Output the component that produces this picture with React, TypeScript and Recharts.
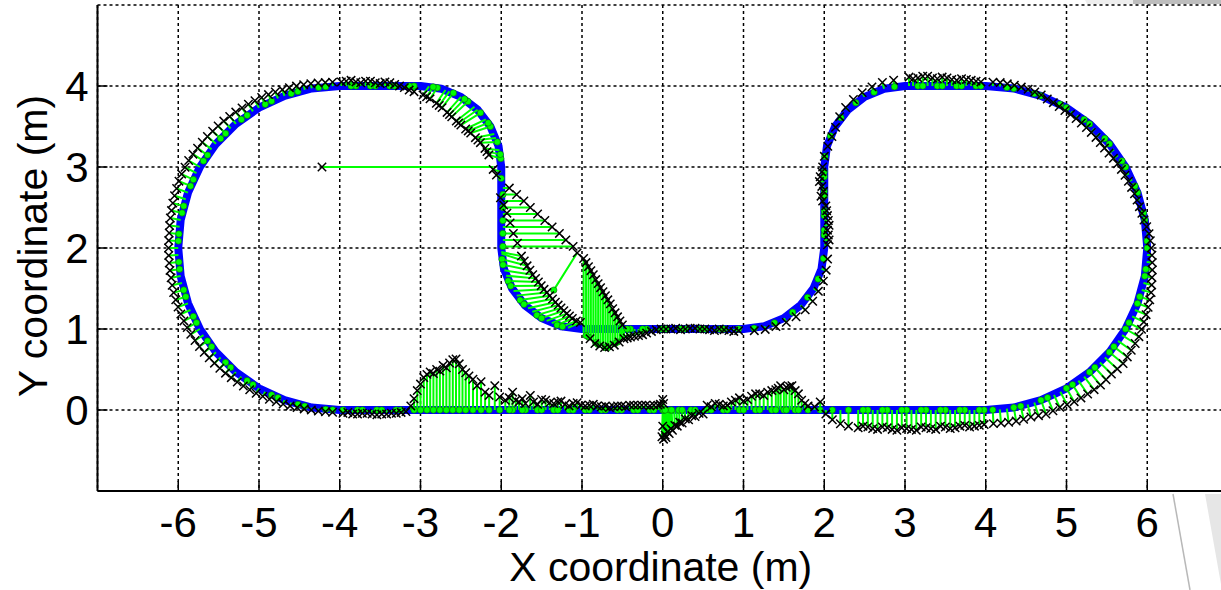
import React from 'react';
import { ComposedChart, Line, Scatter, XAxis, YAxis, CartesianGrid } from 'recharts';

type Seg = [number, number, number, number]; // [refX, refY, measX, measY]
type Pt = [number, number];

const xTicks = [-6, -5, -4, -3, -2, -1, 0, 1, 2, 3, 4, 5, 6];
const yTicks = [0, 1, 2, 3, 4];
const xTitle = 'X coordinate (m)';
const yTitle = 'Y coordinate (m)';

// reference track (blue)
const referencePath: Pt[] = [
  [0, 0], [4, 0],
  [4.347, 0.03], [4.684, 0.121], [5.0, 0.268], [5.286, 0.468], [5.532, 0.714], [5.732, 1.0],
  [5.879, 1.316], [5.97, 1.653], [6, 2], [5.97, 2.347], [5.879, 2.684], [5.732, 3.0],
  [5.532, 3.286], [5.286, 3.532], [5.0, 3.732], [4.684, 3.879], [4.347, 3.97], [4, 4],
  [3, 4],
  [2.741, 3.966], [2.5, 3.866], [2.293, 3.707], [2.134, 3.5], [2.034, 3.259], [2, 3],
  [2, 2],
  [1.966, 1.741], [1.866, 1.5], [1.707, 1.293], [1.5, 1.134], [1.259, 1.034], [1, 1],
  [-1, 1],
  [-1.259, 1.034], [-1.5, 1.134], [-1.707, 1.293], [-1.866, 1.5], [-1.966, 1.741], [-2, 2],
  [-2, 3],
  [-2.034, 3.259], [-2.134, 3.5], [-2.293, 3.707], [-2.5, 3.866], [-2.741, 3.966], [-3, 4],
  [-4, 4],
  [-4.347, 3.97], [-4.684, 3.879], [-5.0, 3.732], [-5.286, 3.532], [-5.532, 3.286], [-5.732, 3.0],
  [-5.879, 2.684], [-5.97, 2.347], [-6, 2], [-5.97, 1.653], [-5.879, 1.316], [-5.732, 1.0],
  [-5.532, 0.714], [-5.286, 0.468], [-5.0, 0.268], [-4.684, 0.121], [-4.347, 0.03], [-4, 0],
  [0, 0],
];

const bottomRightSamples: Seg[] = [
  [0.0, 0, 0.0, 0.13], [0.0, 0, 0.01, -0.36], [0.02, 0, 0.03, -0.31], [0.05, 0, 0.06, -0.27],
  [0.09, 0, 0.1, -0.23], [0.14, 0, 0.15, -0.19], [0.2, 0, 0.21, -0.15], [0.27, 0, 0.28, -0.11],
  [0.35, 0, 0.36, -0.07], [0.45, 0, 0.45, -0.04], [0.55, 0, 0.55, 0.06], [0.65, 0, 0.65, 0.08],
  [0.75, 0, 0.75, 0.05], [0.85, 0, 0.85, 0.1], [0.95, 0, 0.95, 0.15], [1.05, 0, 1.05, 0.13],
  [1.15, 0, 1.15, 0.2], [1.25, 0, 1.25, 0.18], [1.35, 0, 1.35, 0.24], [1.43, 0, 1.43, 0.27],
  [1.5, 0, 1.5, 0.25], [1.57, 0, 1.57, 0.29], [1.64, 0, 1.64, 0.24], [1.72, 0, 1.72, 0.12],
  [1.8, 0, 1.8, 0.05], [1.88, 0, 1.88, 0.04], [1.95, 0, 1.95, 0.1], [2.02, 0, 2.02, -0.05],
  [2.1, 0, 2.1, -0.12], [2.2, 0, 2.2, -0.17], [2.3, 0, 2.3, -0.2], [2.42, 0, 2.42, -0.22],
  [2.54, 0, 2.54, -0.21], [2.66, 0, 2.66, -0.24], [2.78, 0, 2.78, -0.22], [2.9, 0, 2.9, -0.25],
  [3.02, 0, 3.02, -0.23], [3.14, 0, 3.14, -0.25], [3.26, 0, 3.26, -0.22], [3.38, 0, 3.38, -0.24],
  [3.5, 0, 3.5, -0.21], [3.62, 0, 3.62, -0.22], [3.74, 0, 3.74, -0.19], [3.86, 0, 3.86, -0.2],
  [3.98, 0, 3.98, -0.18],
  [0.0, 0, -0.01, -0.33], [0.01, 0, 0.0, -0.2], [0.0, 0, 0.01, 0.08], [0.03, 0, 0.04, -0.34],
  [0.07, 0, 0.08, -0.29], [0.11, 0, 0.12, -0.25], [0.17, 0, 0.18, -0.2], [0.24, 0, 0.24, -0.16],
  [0.31, 0, 0.32, -0.12], [0.4, 0, 0.4, -0.08], [0.5, 0, 0.5, -0.05],
  [0.6, 0, 0.6, 0.04], [0.7, 0, 0.7, 0.07], [0.8, 0, 0.8, 0.06], [0.9, 0, 0.9, 0.12],
  [1.0, 0, 1.0, 0.11], [1.1, 0, 1.1, 0.17], [1.2, 0, 1.2, 0.2], [1.3, 0, 1.3, 0.22],
  [1.4, 0, 1.4, 0.25], [1.46, 0, 1.46, 0.3], [1.53, 0, 1.53, 0.28], [1.6, 0, 1.6, 0.3],
  [1.68, 0, 1.68, 0.2], [1.76, 0, 1.76, 0.08],
  [2.48, 0, 2.48, -0.2], [2.6, 0, 2.6, -0.23], [2.72, 0, 2.72, -0.21], [2.84, 0, 2.84, -0.24],
  [2.96, 0, 2.96, -0.22], [3.08, 0, 3.08, -0.24], [3.2, 0, 3.2, -0.21], [3.32, 0, 3.32, -0.23],
  [3.44, 0, 3.44, -0.2], [3.56, 0, 3.56, -0.23], [3.68, 0, 3.68, -0.2], [3.8, 0, 3.8, -0.21],
  [3.92, 0, 3.92, -0.19],
];

const rightLoopSamples: Seg[] = [
  [4.174, 0.008, 4.189, -0.162], [4.347, 0.03, 4.377, -0.137], [4.518, 0.068, 4.559, -0.086],
  [4.684, 0.121, 4.746, -0.049], [4.845, 0.187, 4.917, 0.033], [5.0, 0.268, 5.095, 0.103],
  [5.147, 0.362, 5.262, 0.198], [5.286, 0.468, 5.421, 0.307], [5.414, 0.586, 5.556, 0.444],
  [5.532, 0.714, 5.701, 0.573], [5.638, 0.853, 5.802, 0.738], [5.732, 1.0, 5.897, 0.905],
  [5.813, 1.155, 5.958, 1.087], [5.879, 1.316, 6.011, 1.268], [5.932, 1.482, 6.048, 1.451],
  [5.97, 1.653, 6.058, 1.637], [5.992, 1.826, 6.062, 1.82], [6.0, 2.0, 6.05, 2.0],
  [5.992, 2.174, 6.022, 2.177], [5.97, 2.347, 5.96, 2.346], [5.932, 2.518, 5.903, 2.51],
  [5.879, 2.684, 5.842, 2.67], [5.813, 2.845, 5.767, 2.824], [5.732, 3.0, 5.68, 2.97],
  [5.638, 3.147, 5.581, 3.107], [5.532, 3.286, 5.471, 3.234], [5.414, 3.414, 5.365, 3.365],
  [5.286, 3.532, 5.247, 3.486], [5.147, 3.638, 5.119, 3.597], [5.0, 3.732, 4.98, 3.697],
  [4.845, 3.813, 4.837, 3.794], [4.684, 3.879, 4.687, 3.889], [4.518, 3.932, 4.525, 3.961],
  [4.347, 3.97, 4.354, 4.009], [4.174, 3.992, 4.179, 4.042],
  [4.087, 0.002, 4.095, -0.168], [4.261, 0.017, 4.283, -0.151], [4.433, 0.047, 4.469, -0.114],
  [4.601, 0.093, 4.653, -0.07], [4.765, 0.152, 4.832, -0.009], [4.923, 0.226, 5.007, 0.066],
  [5.075, 0.313, 5.179, 0.149], [5.218, 0.413, 5.342, 0.251], [5.351, 0.525, 5.49, 0.374],
  [5.475, 0.649, 5.629, 0.507], [5.587, 0.782, 5.753, 0.655], [5.687, 0.925, 5.851, 0.821],
  [5.774, 1.077, 5.929, 0.996], [5.848, 1.235, 5.986, 1.177], [5.907, 1.399, 6.031, 1.36],
  [5.953, 1.567, 6.055, 1.544], [5.983, 1.739, 6.062, 1.729], [5.998, 1.913, 6.058, 1.91],
  [5.998, 2.087, 6.038, 2.089], [5.983, 2.261, 5.993, 2.262], [5.953, 2.433, 5.933, 2.428],
  [5.907, 2.601, 5.874, 2.591], [5.848, 2.765, 5.806, 2.748], [5.774, 2.923, 5.725, 2.898],
  [5.687, 3.075, 5.632, 3.04], [5.587, 3.218, 5.527, 3.172], [5.475, 3.351, 5.419, 3.301],
  [5.351, 3.475, 5.307, 3.427], [5.218, 3.587, 5.184, 3.543], [5.075, 3.687, 5.05, 3.649],
  [4.923, 3.774, 4.91, 3.747], [4.765, 3.848, 4.762, 3.839], [4.601, 3.907, 4.607, 3.926],
  [4.433, 3.953, 4.44, 3.987], [4.261, 3.983, 4.267, 4.027], [4.087, 3.998, 4.089, 4.048],
];

const rightBendSamples: Seg[] = [
  [3.88, 4, 3.88, 4.06], [3.76, 4, 3.76, 4.08], [3.64, 4, 3.64, 4.07], [3.52, 4, 3.52, 4.1],
  [3.4, 4, 3.4, 4.09], [3.28, 4, 3.28, 4.12], [3.16, 4, 3.16, 4.1], [3.05, 4, 3.05, 4.11],
  [3.94, 4, 3.94, 4.05], [3.82, 4, 3.82, 4.07], [3.7, 4, 3.7, 4.09], [3.58, 4, 3.58, 4.08],
  [3.46, 4, 3.46, 4.11], [3.34, 4, 3.34, 4.1], [3.22, 4, 3.22, 4.12], [3.1, 4, 3.1, 4.09],
  [2.87, 3.991, 2.859, 4.071], [2.741, 3.966, 2.72, 4.043], [2.617, 3.924, 2.591, 3.989],
  [2.5, 3.866, 2.47, 3.918], [2.391, 3.793, 2.361, 3.833], [2.293, 3.707, 2.265, 3.735],
  [2.207, 3.609, 2.191, 3.621], [2.134, 3.5, 2.14, 3.49], [2.076, 3.383, 2.095, 3.375],
  [2.034, 3.259, 2.044, 3.256], [2.009, 3.131, 2.001, 3.132],
  [2, 3.0, 1.98, 3.0], [2, 2.88, 1.95, 2.88], [2, 2.76, 1.97, 2.76], [2, 2.64, 1.96, 2.64],
  [2, 2.52, 2.02, 2.52], [2, 2.4, 2.04, 2.4], [2, 2.28, 2.06, 2.28], [2, 2.16, 2.05, 2.16],
  [2, 2.04, 2.04, 2.04],
  [2, 2.94, 1.97, 2.94], [2, 2.82, 1.94, 2.82], [2, 2.7, 1.99, 2.7], [2, 2.58, 1.98, 2.58],
  [2, 2.46, 2.03, 2.46], [2, 2.34, 2.05, 2.34], [2, 2.22, 2.04, 2.22], [2, 2.1, 2.06, 2.1],
  [1.991, 1.87, 2.041, 1.863], [1.966, 1.741, 2.024, 1.726], [1.924, 1.617, 1.989, 1.591],
  [1.866, 1.5, 1.927, 1.465], [1.793, 1.391, 1.857, 1.343], [1.707, 1.293, 1.764, 1.236],
  [1.609, 1.207, 1.651, 1.151], [1.5, 1.134, 1.53, 1.082], [1.383, 1.076, 1.402, 1.03],
  [1.259, 1.034, 1.269, 0.995], [1.131, 1.009, 1.134, 0.979],
];

const middleSamples: Seg[] = [
  [0.88, 1, 0.88, 0.97], [0.76, 1, 0.76, 0.99], [0.64, 1, 0.64, 0.98], [0.52, 1, 0.52, 1.0],
  [0.4, 1, 0.4, 1.01], [0.28, 1, 0.28, 1.0], [0.16, 1, 0.16, 1.01], [0.04, 1, 0.04, 1.0],
  [-0.08, 1, -0.08, 0.99], [-0.2, 1, -0.2, 0.95], [-0.3, 1, -0.3, 0.92], [-0.4, 1, -0.4, 0.9],
  [-0.48, 1, -0.48, 0.88],
  [0.94, 1, 0.94, 0.98], [0.82, 1, 0.82, 0.98], [0.7, 1, 0.7, 1.0], [0.58, 1, 0.58, 0.99],
  [0.46, 1, 0.46, 1.0], [0.34, 1, 0.34, 1.01], [0.22, 1, 0.22, 0.99], [0.1, 1, 0.1, 1.0],
  [-0.02, 1, -0.02, 1.0], [-0.14, 1, -0.14, 0.97], [-0.25, 1, -0.25, 0.93], [-0.35, 1, -0.35, 0.91],
  [-0.44, 1, -0.44, 0.89],
];

const lagSamples: Seg[] = [
  [-0.98, 0.95, -0.98, 1.87], [-0.92, 0.9, -0.92, 1.77], [-0.86, 0.85, -0.86, 1.67],
  [-0.8, 0.81, -0.8, 1.56], [-0.74, 0.78, -0.74, 1.46], [-0.68, 0.77, -0.68, 1.36],
  [-0.62, 0.8, -0.62, 1.25], [-0.56, 0.84, -0.56, 1.15], [-0.51, 0.88, -0.5, 1.05],
  [-0.95, 0.92, -0.95, 1.82], [-0.89, 0.87, -0.89, 1.72], [-0.83, 0.83, -0.83, 1.61],
  [-0.77, 0.79, -0.77, 1.51], [-0.71, 0.77, -0.71, 1.41], [-0.65, 0.78, -0.65, 1.31],
  [-0.59, 0.82, -0.59, 1.2], [-0.53, 0.86, -0.53, 1.1],
  [-1.35, 1.48, -1.06, 1.94],
  [-1.174, 1.015, -1.02, 1.08], [-1.309, 1.049, -1.12, 1.13], [-1.438, 1.101, -1.19, 1.19],
  [-1.559, 1.171, -1.26, 1.26], [-1.669, 1.257, -1.33, 1.33], [-1.766, 1.357, -1.4, 1.41],
  [-1.848, 1.47, -1.47, 1.49], [-1.914, 1.593, -1.54, 1.58], [-1.961, 1.724, -1.61, 1.67],
  [-1.99, 1.861, -1.68, 1.78], [-2.0, 1.95, -1.75, 1.9],
  [-1.242, 1.03, -1.07, 1.1], [-1.375, 1.073, -1.155, 1.16], [-1.5, 1.134, -1.225, 1.225],
  [-1.616, 1.212, -1.295, 1.295], [-1.719, 1.305, -1.365, 1.37], [-1.809, 1.412, -1.435, 1.45],
  [-1.883, 1.531, -1.505, 1.535], [-1.94, 1.658, -1.575, 1.625], [-1.978, 1.792, -1.645, 1.725],
  [-1.998, 1.93, -1.715, 1.84],
  [-1.98, 2.02, -1.11, 2.02], [-1.98, 2.1, -1.2, 2.1], [-1.98, 2.18, -1.28, 2.18],
  [-1.98, 2.26, -1.37, 2.26], [-1.98, 2.34, -1.46, 2.34], [-1.98, 2.42, -1.55, 2.42],
  [-1.98, 2.5, -1.64, 2.5], [-1.98, 2.58, -1.72, 2.58], [-1.98, 2.66, -1.81, 2.66],
  [-1.98, 2.74, -1.9, 2.74], [-2.0, 2.86, -2.06, 2.9], [-2.0, 2.94, -2.1, 2.97],
  [-2.006, 3.105, -2.153, 3.149], [-2.022, 3.208, -2.202, 3.229], [-2.049, 3.309, -2.258, 3.3],
  [-2.086, 3.407, -2.32, 3.362], [-2.134, 3.5, -2.378, 3.419], [-2.191, 3.588, -2.441, 3.469],
  [-2.257, 3.669, -2.5, 3.518], [-2.331, 3.743, -2.557, 3.567], [-2.412, 3.809, -2.613, 3.619],
  [-2.5, 3.866, -2.671, 3.674], [-2.593, 3.914, -2.733, 3.733], [-2.691, 3.951, -2.804, 3.786],
  [-2.792, 3.978, -2.882, 3.842], [-2.895, 3.995, -2.969, 3.889],
  [-2.012, 3.156, -2.177, 3.19], [-2.066, 3.358, -2.289, 3.332], [-2.161, 3.545, -2.409, 3.445],
  [-2.293, 3.707, -2.528, 3.543], [-2.455, 3.839, -2.641, 3.647], [-2.642, 3.934, -2.768, 3.76],
  [-2.844, 3.988, -2.924, 3.867],
  [-2.1, 3.0, -4.22, 3.0],
];

const topLeftSamples: Seg[] = [
  [-3.08, 4, -3.08, 3.93], [-3.2, 4, -3.2, 3.98], [-3.32, 4, -3.32, 4.02], [-3.44, 4, -3.44, 4.05],
  [-3.56, 4, -3.56, 4.04], [-3.68, 4, -3.68, 4.06], [-3.8, 4, -3.8, 4.05], [-3.92, 4, -3.92, 4.06],
  [-3.14, 4, -3.14, 3.95], [-3.26, 4, -3.26, 4.0], [-3.38, 4, -3.38, 4.04], [-3.5, 4, -3.5, 4.03],
  [-3.62, 4, -3.62, 4.06], [-3.74, 4, -3.74, 4.04], [-3.86, 4, -3.86, 4.07], [-3.98, 4, -3.98, 4.05],
];

const leftLoopSamples: Seg[] = [
  [-4.174, 3.992, -4.179, 4.042], [-4.347, 3.97, -4.358, 4.029], [-4.518, 3.932, -4.536, 3.999],
  [-4.684, 3.879, -4.711, 3.955], [-4.845, 3.813, -4.883, 3.894], [-5.0, 3.732, -5.05, 3.819],
  [-5.147, 3.638, -5.21, 3.729], [-5.286, 3.532, -5.363, 3.624], [-5.414, 3.414, -5.506, 3.506],
  [-5.532, 3.286, -5.639, 3.376], [-5.638, 3.147, -5.761, 3.233], [-5.732, 3.0, -5.871, 3.08],
  [-5.813, 2.845, -5.958, 2.913], [-5.879, 2.684, -6.02, 2.735], [-5.932, 2.518, -6.067, 2.554],
  [-5.97, 2.347, -6.098, 2.37], [-5.992, 2.174, -6.112, 2.185], [-6.0, 2.0, -6.12, 2.0],
  [-5.992, 1.826, -6.112, 1.815], [-5.97, 1.653, -6.088, 1.632], [-5.932, 1.482, -6.057, 1.449],
  [-5.879, 1.316, -6.002, 1.272], [-5.813, 1.155, -5.93, 1.1], [-5.732, 1.0, -5.845, 0.935],
  [-5.638, 0.853, -5.737, 0.784], [-5.532, 0.714, -5.616, 0.644], [-5.414, 0.586, -5.485, 0.515],
  [-5.286, 0.468, -5.343, 0.399], [-5.147, 0.362, -5.193, 0.296], [-5.0, 0.268, -5.035, 0.207],
  [-4.845, 0.187, -4.871, 0.133], [-4.684, 0.121, -4.701, 0.074], [-4.518, 0.068, -4.528, 0.03],
  [-4.347, 0.03, -4.352, 0.001], [-4.174, 0.008, -4.177, -0.022],
  [-4.087, 3.998, -4.089, 4.048], [-4.261, 3.983, -4.268, 4.037], [-4.433, 3.953, -4.447, 4.016],
  [-4.601, 3.907, -4.624, 3.979], [-4.765, 3.848, -4.798, 3.926], [-4.923, 3.774, -4.967, 3.858],
  [-5.075, 3.687, -5.131, 3.775], [-5.218, 3.587, -5.288, 3.678], [-5.351, 3.475, -5.436, 3.567],
  [-5.475, 3.351, -5.574, 3.442], [-5.587, 3.218, -5.702, 3.306], [-5.687, 3.075, -5.818, 3.158],
  [-5.774, 2.923, -5.916, 2.997], [-5.848, 2.765, -5.991, 2.825], [-5.907, 2.601, -6.046, 2.645],
  [-5.953, 2.433, -6.084, 2.462], [-5.983, 2.261, -6.107, 2.277], [-5.998, 2.087, -6.118, 2.092],
  [-5.998, 1.913, -6.118, 1.908], [-5.983, 1.739, -6.102, 1.723], [-5.953, 1.567, -6.075, 1.54],
  [-5.907, 1.399, -6.031, 1.36], [-5.848, 1.235, -5.968, 1.185], [-5.774, 1.077, -5.889, 1.017],
  [-5.687, 0.925, -5.792, 0.858], [-5.587, 0.782, -5.678, 0.712], [-5.475, 0.649, -5.552, 0.578],
  [-5.351, 0.525, -5.415, 0.455], [-5.218, 0.413, -5.269, 0.346], [-5.075, 0.313, -5.115, 0.25],
  [-4.923, 0.226, -4.953, 0.168], [-4.765, 0.152, -4.786, 0.101], [-4.601, 0.093, -4.615, 0.05],
  [-4.433, 0.047, -4.44, 0.013], [-4.261, 0.017, -4.265, -0.013], [-4.087, 0.002, -4.089, -0.028],
];

const bottomLeftSamples: Seg[] = [
  [-3.9, 0, -3.9, -0.03], [-3.78, 0, -3.78, -0.05], [-3.66, 0, -3.66, -0.04], [-3.54, 0, -3.54, -0.06],
  [-3.42, 0, -3.42, -0.05], [-3.3, 0, -3.3, -0.04], [-3.18, 0, -3.18, -0.02],
  [-3.96, 0, -3.96, -0.04], [-3.84, 0, -3.84, -0.05], [-3.72, 0, -3.72, -0.04], [-3.6, 0, -3.6, -0.05],
  [-3.48, 0, -3.48, -0.05], [-3.36, 0, -3.36, -0.04], [-3.24, 0, -3.24, -0.03],
  [-3.12, 0, -3.12, 0.05], [-3.08, 0, -3.08, 0.14], [-3.04, 0, -3.04, 0.24], [-3.0, 0, -3.0, 0.32],
  [-2.96, 0, -2.96, 0.4], [-2.92, 0, -2.92, 0.44], [-2.88, 0, -2.88, 0.47], [-2.84, 0, -2.84, 0.45],
  [-2.8, 0, -2.8, 0.5], [-2.76, 0, -2.76, 0.48], [-2.72, 0, -2.72, 0.55], [-2.68, 0, -2.68, 0.52],
  [-2.64, 0, -2.64, 0.58], [-2.6, 0, -2.6, 0.62], [-2.56, 0, -2.56, 0.63], [-2.52, 0, -2.52, 0.57],
  [-2.48, 0, -2.48, 0.5], [-2.44, 0, -2.44, 0.46], [-2.4, 0, -2.4, 0.42], [-2.35, 0, -2.35, 0.38],
  [-2.3, 0, -2.3, 0.3], [-2.25, 0, -2.25, 0.35], [-2.2, 0, -2.2, 0.22], [-2.15, 0, -2.15, 0.18],
  [-2.08, 0, -2.08, 0.3], [-2.02, 0, -2.02, 0.16], [-1.95, 0, -1.95, 0.12], [-1.86, 0, -1.86, 0.22],
  [-1.78, 0, -1.78, 0.1], [-1.7, 0, -1.7, 0.08], [-1.64, 0, -1.64, 0.18], [-1.55, 0, -1.55, 0.07],
  [-1.45, 0, -1.45, 0.12], [-1.35, 0, -1.35, 0.08], [-1.26, 0, -1.26, 0.11], [-1.16, 0, -1.16, 0.05],
  [-1.06, 0, -1.06, 0.09], [-0.96, 0, -0.96, 0.05], [-0.86, 0, -0.86, 0.07], [-0.76, 0, -0.76, 0.04],
  [-0.66, 0, -0.66, 0.03], [-0.56, 0, -0.56, 0.05], [-0.46, 0, -0.46, 0.04], [-0.36, 0, -0.36, 0.06],
  [-0.26, 0, -0.26, 0.06], [-0.16, 0, -0.16, 0.05], [-0.06, 0, -0.06, 0.06],
  [-1.9, 0, -1.9, 0.15], [-1.82, 0, -1.82, 0.12], [-1.74, 0, -1.74, 0.14], [-1.6, 0, -1.6, 0.1],
  [-1.5, 0, -1.5, 0.13], [-1.4, 0, -1.4, 0.09], [-1.3, 0, -1.3, 0.1], [-1.21, 0, -1.21, 0.07],
  [-1.11, 0, -1.11, 0.08], [-1.01, 0, -1.01, 0.06], [-0.91, 0, -0.91, 0.06], [-0.81, 0, -0.81, 0.05],
  [-0.71, 0, -0.71, 0.05], [-0.61, 0, -0.61, 0.04], [-0.51, 0, -0.51, 0.05], [-0.41, 0, -0.41, 0.06],
  [-0.31, 0, -0.31, 0.06], [-0.21, 0, -0.21, 0.06], [-0.11, 0, -0.11, 0.06], [-0.03, 0, -0.03, 0.07],
];

// measured points without an error vector
const extraMarks: Pt[] = [
  [-0.9, 0.88], [-0.84, 0.82], [-0.78, 0.79], [-0.72, 0.77], [-0.66, 0.78], [-0.6, 0.8], [-0.54, 0.84],
  [-1.8, 2.06], [-1.85, 2.18], [-1.89, 2.31], [-1.93, 2.43], [-1.97, 2.53], [-2.01, 2.62],
];

const allSamples: Seg[] = [
  ...bottomRightSamples, ...rightLoopSamples, ...rightBendSamples, ...middleSamples,
  ...lagSamples, ...topLeftSamples, ...leftLoopSamples, ...bottomLeftSamples,
];

const pathData = referencePath.map(([x, y]) => ({ x, y }));
const errorData = allSamples.flatMap(([rx, ry, mx, my]) => [
  { x: rx, y: ry },
  { x: mx, y: my },
  { x: mx, y: null },
]);
const measuredData = [
  ...allSamples.map(([, , mx, my]) => ({ x: mx, y: my })),
  ...extraMarks.map(([x, y]) => ({ x, y })),
];
const dotData = allSamples.filter((_, i) => i % 2 === 0).map(([rx, ry]) => ({ x: rx, y: ry }));

const FONT = '"Liberation Sans", Arial, Helvetica, sans-serif';

const BottomTick = (props: any) => {
  const { x, y, payload } = props;
  return (
    <g>
      <line x1={x} y1={y} x2={x} y2={y - 10} stroke="#000" strokeWidth={1.5} />
      <text x={x} y={y + 46} textAnchor="middle" fontSize={42} fontFamily={FONT} fill="#000">
        {payload.value}
      </text>
    </g>
  );
};

const TopTick = (props: any) => {
  const { x, y } = props;
  return <line x1={x} y1={y} x2={x} y2={y + 10} stroke="#000" strokeWidth={1.5} />;
};

const LeftTick = (props: any) => {
  const { x, y, payload } = props;
  return (
    <g>
      <line x1={x} y1={y} x2={x + 10} y2={y} stroke="#000" strokeWidth={1.5} />
      <text x={x - 9} y={y + 15} textAnchor="end" fontSize={42} fontFamily={FONT} fill="#000">
        {payload.value}
      </text>
    </g>
  );
};

const XTitle = (props: any) => {
  const vb = props.viewBox || { x: 97.5, y: 491, width: 1130.5, height: 40 };
  const cx = vb.x + vb.width / 2 - 2;
  return (
    <text x={cx} y={vb.y + 90} textAnchor="middle" fontSize={41} fontFamily={FONT} fill="#000">
      {xTitle}
    </text>
  );
};

const YTitle = (props: any) => {
  const vb = props.viewBox || { x: 37.5, y: 5, width: 60, height: 486 };
  const tx = 47;
  const ty = vb.y + vb.height / 2 - 2;
  return (
    <text
      x={tx}
      y={ty}
      transform={`rotate(-90 ${tx} ${ty})`}
      textAnchor="middle"
      fontSize={41}
      fontFamily={FONT}
      fill="#000"
    >
      {yTitle}
    </text>
  );
};

const XMark = (p: any) => {
  const { cx, cy } = p;
  if (cx == null || cy == null) return <g />;
  const s = 4.2;
  return (
    <path
      d={`M${cx - s},${cy - s}L${cx + s},${cy + s}M${cx - s},${cy + s}L${cx + s},${cy - s}`}
      stroke="#000"
      strokeWidth={1.5}
      fill="none"
    />
  );
};

const GreenDot = (p: any) => {
  const { cx, cy } = p;
  if (cx == null || cy == null) return <g />;
  return <circle cx={cx} cy={cy} r={3.2} fill="#00ff00" stroke="#0a6a0a" strokeWidth={0.6} />;
};

export default function App() {
  return (
    <div
      style={{
        position: 'fixed',
        left: 0,
        top: 0,
        width: 1221,
        height: 590,
        overflow: 'hidden',
        background: '#fff',
      }}
    >
      <svg width={1221} height={590} style={{ position: 'absolute', left: 0, top: 0 }}>
        <polygon points="1085,0 1133,0 1133,4 1087,4" fill="#eeeeee" />
        <polygon points="1133,0 1221,0 1221,4 1133,4" fill="#bdbdbd" />
        <line x1={1173} y1={494} x2={1190} y2={590} stroke="#b8b8b8" strokeWidth={1.5} />
        <polygon points="1205,494 1221,494 1221,590 1222,590" fill="#e6e6e6" />
      </svg>
      <div style={{ position: 'absolute', left: 0, top: 0 }}>
        <ComposedChart width={1240} height={590} margin={{ top: 5, right: 12, bottom: 59, left: 37.5 }}>
          <CartesianGrid stroke="#000" strokeDasharray="3 3" strokeWidth={1.5} />
          <XAxis
            type="number"
            dataKey="x"
            domain={[-7, 7]}
            ticks={xTicks}
            interval={0}
            allowDataOverflow
            height={40}
            tickSize={0}
            tickMargin={0}
            tickLine={false}
            axisLine={{ stroke: '#000', strokeWidth: 2 }}
            tick={<BottomTick />}
            label={<XTitle />}
          />
          <XAxis
            xAxisId="top"
            orientation="top"
            type="number"
            dataKey="x"
            domain={[-7, 7]}
            ticks={xTicks}
            interval={0}
            allowDataOverflow
            height={0}
            tickSize={0}
            tickMargin={0}
            tickLine={false}
            axisLine={{ stroke: '#000', strokeWidth: 2 }}
            tick={<TopTick />}
          />
          <YAxis
            type="number"
            dataKey="y"
            domain={[-1, 5]}
            ticks={yTicks}
            interval={0}
            allowDataOverflow
            width={60}
            tickSize={0}
            tickMargin={0}
            tickLine={false}
            axisLine={{ stroke: '#000', strokeWidth: 2 }}
            tick={<LeftTick />}
            label={<YTitle />}
          />
          <Line
            data={pathData}
            dataKey="y"
            stroke="#0000ff"
            strokeWidth={8}
            strokeLinejoin="round"
            dot={false}
            activeDot={false}
            isAnimationActive={false}
            type="linear"
          />
          <Line
            data={errorData}
            dataKey="y"
            stroke="#00ff00"
            strokeWidth={2}
            dot={false}
            activeDot={false}
            connectNulls={false}
            isAnimationActive={false}
            type="linear"
          />
          <Scatter data={dotData} dataKey="y" shape={GreenDot} isAnimationActive={false} />
          <Scatter data={measuredData} dataKey="y" shape={XMark} isAnimationActive={false} />
        </ComposedChart>
      </div>
    </div>
  );
}
